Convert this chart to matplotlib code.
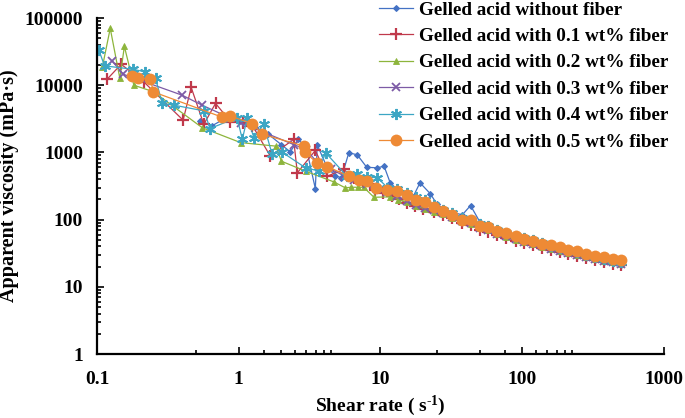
import numpy as np
import matplotlib
matplotlib.use('Agg')
import matplotlib.pyplot as plt
from matplotlib.ticker import FixedLocator, NullFormatter, LogLocator, FixedFormatter

plt.rcParams['font.family'] = ['Liberation Serif', 'DejaVu Serif']
plt.rcParams['font.weight'] = 'bold'
plt.rcParams['mathtext.fontset'] = 'custom'
plt.rcParams['mathtext.rm'] = 'Liberation Serif:bold'
plt.rcParams['mathtext.default'] = 'rm'

# shared shear-rate points of the high-rate tail
x_tail = [27.8, 32.1, 37.8, 43.2, 50.3, 57.6, 66.7, 77.2, 89.8, 103, 120, 137,
          159, 184, 211, 245, 284, 326, 377, 440, 500]

# Gelled acid without fiber
x_blue = [0.537, 0.65, 0.8, 1.0, 1.3, 1.6, 2.0, 2.31, 2.64, 3.0, 3.47, 3.58, 4.2,
          4.8, 5.3, 5.98, 6.86, 8.0, 9.5, 10.6, 11.7, 13.1, 15.5, 17.0, 19.0, 22.5, 25.0]
y_blue = [2930, 2500, 3200, 2900, 2400, 1900, 1300, 1020, 1560, 1150, 290, 1290, 600,
          450, 420, 990, 920, 600, 590, 625, 355, 280, 245, 220, 353, 242, 170]
t_blue = [145, 128, 118, 162, 92, 80, 68, 60, 53, 48, 43.5, 39.5, 36.5, 33.5, 31,
          28.5, 26.5, 24.8, 23.3, 22.3, 21.3]

# 0.1 wt%
x_red = [0.118, 0.148, 0.214, 0.405, 0.462, 0.567, 0.686, 0.874, 1.08, 1.25, 1.67,
         2.44, 2.59, 3.47, 4.21, 5.5, 6.5, 7.5, 8.5, 9.2, 10.5, 12.0, 13.5, 15.5,
         17.5, 20.0, 24.0]
y_red = [12300, 20500, 11200, 3020, 9250, 2620, 5370, 2870, 2770, 2500, 880,
         1560, 497, 1070, 443, 557, 420, 380, 340, 280, 250, 225, 200, 175,
         160, 145, 128]
t_red = [118, 104, 90, 84, 71, 66, 59, 54, 48.5, 45, 41.5, 38, 35.5, 33, 30.5,
         28.5, 26.5, 24.8, 23.3, 22, 20.8]

# 0.2 wt%
x_green = [0.109, 0.124, 0.145, 0.156, 0.182, 0.25, 0.553, 1.03, 1.83, 2.0, 3.0,
           4.69, 5.65, 6.2, 6.9, 7.6, 9.0, 11.7, 13.4, 15.5, 17.7, 20.5, 23.8]
y_green = [18400, 70200, 12600, 37800, 10000, 8000, 2330, 1400, 1240, 740, 520,
           364, 297, 303, 303, 303, 215, 218, 199, 181, 160, 145, 132]
t_green = [120, 107, 93, 87, 74, 69, 61, 56, 50.5, 46.5, 43, 39.5, 36.8, 34.2,
           31.8, 29.6, 27.5, 25.8, 24.2, 23, 21.8]

# 0.3 wt%
x_purple = [0.128, 0.153, 0.399, 0.553, 1.03, 2.44, 3.0, 3.6, 4.5, 5.5, 6.5, 8.0,
            9.5, 11.2, 13.1, 15.5, 17.7, 20.5, 23.8]
y_purple = [23000, 14600, 7100, 5030, 2770, 1310, 1100, 700, 560, 450, 390, 340,
            290, 260, 225, 190, 165, 150, 137]
t_purple = [125, 110, 96, 89, 76, 70, 62, 57, 51, 47, 43.5, 40, 37, 34.5, 32,
            29.8, 27.7, 26, 24.4, 23.2, 22.2]

# 0.4 wt%
x_cyan = [0.103, 0.113, 0.179, 0.218, 0.259, 0.288, 0.352, 0.573, 0.625, 0.973,
          1.06, 1.15, 1.28, 1.5, 1.72, 2.02, 2.96, 3.66, 4.1, 5.8, 6.86, 8.0, 9.5,
          11.2, 13.1, 15.5, 17.7, 20.5, 23.8]
y_cyan = [33600, 19400, 17300, 15800, 12700, 5380, 5030, 4140, 2260, 3300,
          1560, 3300, 1650, 2610, 935, 1010, 590, 530, 990, 443, 470, 430, 420,
          300, 290, 250, 215, 195, 165]
t_cyan = [140, 125, 106, 99, 85, 79, 71, 64, 58, 53, 49, 44.5, 41, 38, 35, 32.5,
          30, 28, 26.3, 24.5, 23]

# 0.5 wt%
x_orange = [0.177, 0.196, 0.238, 0.25, 0.765, 0.874, 1.25, 1.47, 2.90, 2.95, 3.58,
            4.22, 5.96, 7.04, 8.07, 9.23, 11.2, 13.1, 15.5, 17.7, 20.5, 23.8]
y_orange = [13500, 12700, 12300, 7950, 3340, 3460, 2690, 1860, 1240, 1000, 690,
            615, 443, 395, 373, 300, 280, 271, 236, 194, 184, 155]
t_orange = [133, 119, 100, 98, 81, 78, 68.5, 63, 56.7, 52, 48.6, 43.8, 41.3, 38.6,
            35.7, 33.6, 31.1, 29, 27.4, 26.2, 24.7]

labels = ['Gelled acid without fiber', 'Gelled acid with 0.1 wt% fiber',
          'Gelled acid with 0.2 wt% fiber', 'Gelled acid with 0.3 wt% fiber',
          'Gelled acid with 0.4 wt% fiber', 'Gelled acid with 0.5 wt% fiber']

series = [
    (x_blue, y_blue, t_blue, '#4472C4', dict(marker='D', ms=3, mew=0.8)),
    (x_red, y_red, t_red, '#C0394B', dict(marker='+', ms=8, mew=1.6)),
    (x_green, y_green, t_green, '#8DB53C', dict(marker='^', ms=4, mew=0.6)),
    (x_purple, y_purple, t_purple, '#7D5BA6', dict(marker='x', ms=6, mew=1.3)),
    (x_cyan, y_cyan, t_cyan, '#3CA6C4', dict(marker=(6, 2, 0), ms=8, mew=1.4)),
    (x_orange, y_orange, t_orange, '#EE8A35', dict(marker='o', ms=8.5, mew=0)),
]

fig = plt.figure(figsize=(6.85, 4.18), dpi=100)
ax = fig.add_axes([0.1416, 0.1531, 0.8277, 0.8038])

for (xs, ys, ts, col, mk), lab in zip(series, labels):
    xx = list(xs) + x_tail
    yy = list(ys) + ts
    ax.plot(xx, yy, color=col, lw=0.9, label=lab, mfc=col, mec=col, **mk)

ax.set_xscale('log')
ax.set_yscale('log')
ax.set_xlim(0.1, 1000)
ax.set_ylim(1, 100000)

ax.xaxis.set_major_locator(FixedLocator([0.1, 1, 10, 100, 1000]))
ax.xaxis.set_major_formatter(FixedFormatter(['0.1', '1', '10', '100', '1000']))
ax.xaxis.set_minor_locator(FixedLocator([0.5, 1.5, 2, 2.5, 3, 3.5, 4, 4.5,
                                         25, 50, 75, 125, 150, 175, 200, 225]))
ax.xaxis.set_minor_formatter(NullFormatter())
ax.yaxis.set_major_locator(FixedLocator([1, 10, 100, 1000, 10000, 100000]))
ax.yaxis.set_major_formatter(FixedFormatter(['1', '10', '100', '1000', '10000', '100000']))
ax.yaxis.set_minor_locator(LogLocator(base=10, subs=np.arange(2, 10)))
ax.yaxis.set_minor_formatter(NullFormatter())

ax.tick_params(which='both', direction='in', width=1.2, labelsize=14, pad=10)
ax.tick_params(axis='x', which='major', pad=12)
ax.tick_params(which='major', length=5)
ax.tick_params(which='minor', length=3)

for s in ['top', 'right']:
    ax.spines[s].set_visible(False)
for s in ['left', 'bottom']:
    ax.spines[s].set_linewidth(1.6)

ax.set_xlabel('Shear rate ( s$^{\\text{-1}}$)', fontsize=14, fontweight='bold', labelpad=4)
ax.set_ylabel('Apparent viscosity (mPa·s)', fontsize=14.5, fontweight='bold', labelpad=4)

leg = fig.legend(loc='upper left', bbox_to_anchor=(0.539, 1.02), frameon=False,
                 fontsize=13.8, handlelength=1.8, handletextpad=0.3,
                 labelspacing=0.47, borderpad=0)
for t in leg.get_texts():
    t.set_fontweight('bold')

fig.savefig('out.png', dpi=100)
